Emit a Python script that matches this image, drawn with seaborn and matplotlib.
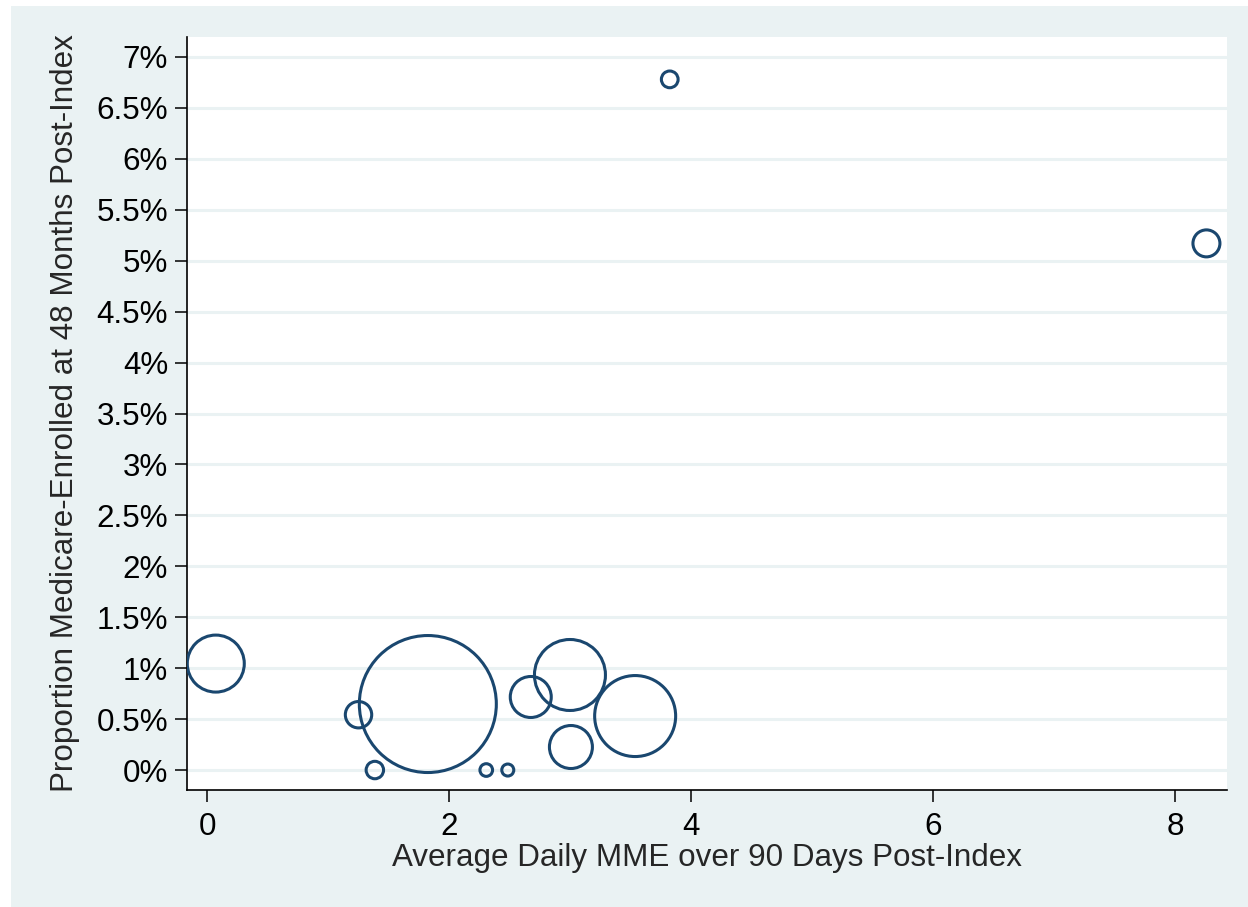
import numpy as np
import pandas as pd
import seaborn as sns
import matplotlib.pyplot as plt
from matplotlib.patches import Rectangle
from matplotlib.ticker import FuncFormatter

# bubble data
mme = [0.07, 1.25, 1.385, 1.823, 2.306, 2.484, 2.674, 2.998, 3.006, 3.537, 3.823, 8.26]
pct_medicare = [1.045, 0.543, 0.0, 0.648, 0.0, 0.0, 0.717, 0.933, 0.226, 0.530, 6.78, 5.17]
weight = [812, 174, 76, 4692, 40, 36, 420, 1260, 462, 1640, 70, 182]

y_ticks = [0, 0.5, 1, 1.5, 2, 2.5, 3, 3.5, 4, 4.5, 5, 5.5, 6, 6.5, 7]
x_ticks = [0, 2, 4, 6, 8]

df = pd.DataFrame({"mme": mme, "pct": pct_medicare, "w": weight})

navy = "#1a476f"
panel = "#eaf2f3"

sns.set_style("ticks")
plt.rcParams["font.family"] = ["Liberation Sans", "DejaVu Sans"]

fig = plt.figure(figsize=(12.48, 9.07), dpi=100)
# light stata-like panel behind the plot
fig.patches.append(Rectangle((11 / 1248, 0), 1 - 11 / 1248, 1 - 6 / 907,
                             transform=fig.transFigure, facecolor=panel,
                             edgecolor="none", zorder=-10))
ax = fig.add_axes([187 / 1248, 1 - 790 / 907, (1227 - 187) / 1248, (790 - 37) / 907])
ax.set_facecolor("white")

k = 2.0736  # pt^2 per weight unit
sns.scatterplot(data=df, x="mme", y="pct", size="w",
                sizes=(min(weight) * k, max(weight) * k),
                facecolors="none", edgecolor=navy, linewidth=2.2,
                legend=False, ax=ax, zorder=3)

ax.set_xlim(-0.168, 8.43)
ax.set_ylim(-0.196, 7.196)
ax.set_xticks(x_ticks)
ax.set_yticks(y_ticks)
ax.yaxis.set_major_formatter(FuncFormatter(lambda v, p: f"{v:g}%"))
ax.grid(axis="y", color=panel, linewidth=2.2, zorder=1)
ax.set_axisbelow(True)

for s in ["top", "right"]:
    ax.spines[s].set_visible(False)
for s in ["left", "bottom"]:
    ax.spines[s].set_color("black")
    ax.spines[s].set_linewidth(1.2)

ax.tick_params(axis="both", labelsize=22.6, length=8.6, width=1.1,
               color="black", labelcolor="black", pad=5)
ax.tick_params(axis="x", pad=7)
ax.set_xlabel("Average Daily MME over 90 Days Post-Index", fontsize=22.6, labelpad=1)
ax.set_ylabel("Proportion Medicare-Enrolled at 48 Months Post-Index", fontsize=22.6,
              labelpad=12)

fig.savefig("out.png", dpi=100)
